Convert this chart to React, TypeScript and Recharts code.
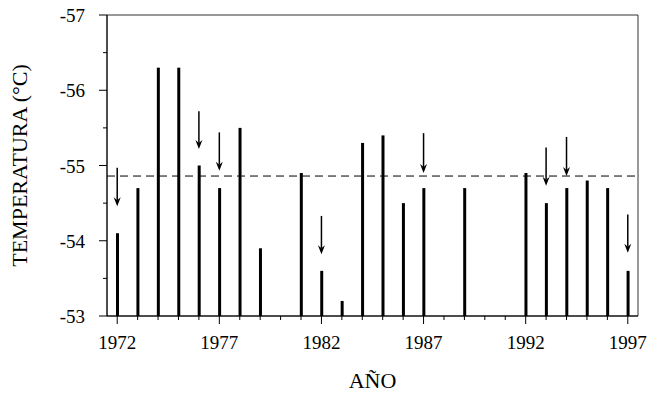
import React from 'react';
import { ComposedChart, Bar, XAxis, YAxis, ReferenceLine, ReferenceArea, Label } from 'recharts';

// annual minimum temperature (°C)
const years = [1972, 1973, 1974, 1975, 1976, 1977, 1978, 1979, 1981, 1982, 1983, 1984, 1985, 1986, 1987, 1989, 1992, 1993, 1994, 1995, 1996, 1997];
const temps = [-54.1, -54.7, -56.3, -56.3, -55.0, -54.7, -55.5, -53.9, -54.9, -53.6, -53.2, -55.3, -55.4, -54.5, -54.7, -54.7, -54.9, -54.5, -54.7, -54.8, -54.7, -53.6];
const meanTemp = -54.86;

// arrows: start (top) and tip values
const arrowYears = [1972, 1976, 1977, 1982, 1987, 1993, 1994, 1997];
const arrowFrom = [-54.97, -55.72, -55.44, -54.33, -55.43, -55.24, -55.38, -54.35];
const arrowTo = [-54.46, -55.22, -54.93, -53.82, -54.9, -54.73, -54.86, -53.84];

const xTicks = [1972, 1973, 1974, 1975, 1976, 1977, 1978, 1979, 1980, 1981, 1982, 1983, 1984, 1985, 1986, 1987, 1988, 1989, 1990, 1991, 1992, 1993, 1994, 1995, 1996, 1997];
const xLabels = [1972, 1977, 1982, 1987, 1992, 1997];
const yTicks = [-57, -56.5, -56, -55.5, -55, -54.5, -54, -53.5, -53];

const data = years.map((y, i) => ({ year: y, temp: temps[i] }));

const FONT = '"Liberation Serif", "Times New Roman", serif';
const INK = '#000';

const XTick = (props: any) => {
  const { x, y, payload } = props;
  const major = xLabels.includes(payload.value);
  return (
    <g>
      <line x1={x} y1={y} x2={x} y2={y + (major ? 8 : 4)} stroke={INK} strokeWidth={1} />
      {major && (
        <text x={x} y={y + 33} textAnchor="middle" fontFamily={FONT} fontSize={19} fill={INK}>
          {payload.value}
        </text>
      )}
    </g>
  );
};

const YTick = (props: any) => {
  const { x, y, payload } = props;
  const major = Number.isInteger(payload.value);
  return (
    <g>
      <line x1={x - (major ? 8 : 4)} y1={y} x2={x} y2={y} stroke={INK} strokeWidth={1} />
      {major && (
        <text x={x - 22} y={y + 7} textAnchor="end" fontFamily={FONT} fontSize={19} fill={INK}>
          {payload.value}
        </text>
      )}
    </g>
  );
};

const Arrow = (props: any) => {
  const { x1, y1, x2, y2 } = props;
  const head = 9;
  const half = 3.5;
  return (
    <g>
      <line x1={x1} y1={y1} x2={x2} y2={y2 - head + 3} stroke={INK} strokeWidth={1.5} />
      <path d={`M${x2},${y2} L${x2 - half},${y2 - head} L${x2},${y2 - head + 3} L${x2 + half},${y2 - head} Z`} fill={INK} />
    </g>
  );
};

export default function App() {
  return (
    <div style={{ position: 'absolute', left: 0, top: 0 }}>
      <ComposedChart width={661} height={394} data={data} margin={{ top: 15, right: 23, left: 0, bottom: 0 }}>
        <XAxis
          dataKey="year"
          type="number"
          domain={[1971.5, 1997.5]}
          ticks={xTicks}
          interval={0}
          height={78}
          tickSize={0}
          tickMargin={0}
          tickLine={false}
          axisLine={{ stroke: INK }}
          tick={<XTick />}
        >
          <Label
            content={(p: any) => (
              <text x={p.viewBox.x + p.viewBox.width / 2} y={p.viewBox.y + 72} textAnchor="middle" fontFamily={FONT} fontSize={22} fill={INK}>
                AÑO
              </text>
            )}
          />
        </XAxis>
        <YAxis
          type="number"
          domain={[-57, -53]}
          reversed
          ticks={yTicks}
          interval={0}
          width={107}
          tickSize={0}
          tickMargin={0}
          tickLine={false}
          axisLine={{ stroke: INK }}
          tick={<YTick />}
        >
          <Label
            content={(p: any) => {
              const cx = 27;
              const cy = p.viewBox.y + p.viewBox.height / 2;
              return (
                <text x={cx} y={cy} transform={`rotate(-90, ${cx}, ${cy})`} textAnchor="middle" fontFamily={FONT} fontSize={22} fill={INK}>
                  TEMPERATURA (°C)
                </text>
              );
            }}
          />
        </YAxis>
        <ReferenceArea x1={1971.5} x2={1997.5} y1={-57} y2={-53} fill="none" stroke="#333" strokeWidth={1} fillOpacity={0} />
        <ReferenceLine y={meanTemp} stroke={INK} strokeWidth={1} strokeDasharray="8 5" />
        <Bar dataKey="temp" fill={INK} barSize={3} isAnimationActive={false} />
        {arrowYears.map((yr, i) => (
          <ReferenceLine
            key={yr}
            segment={[{ x: yr, y: arrowFrom[i] }, { x: yr, y: arrowTo[i] }]}
            shape={<Arrow />}
          />
        ))}
      </ComposedChart>
    </div>
  );
}
